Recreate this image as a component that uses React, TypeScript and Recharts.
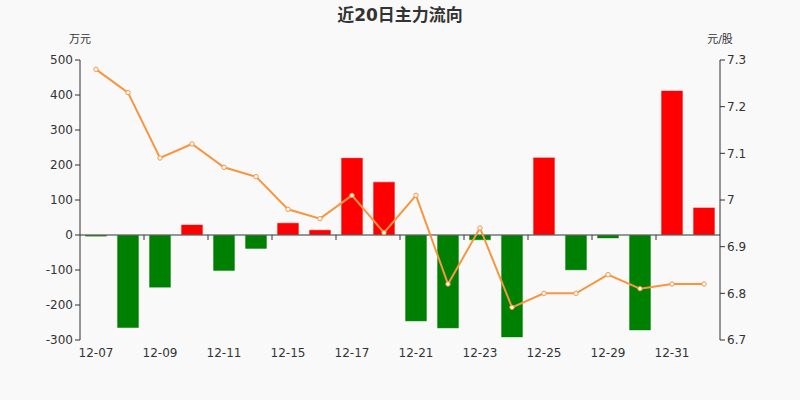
import { ComposedChart, Bar, Line, XAxis, YAxis, Cell, ReferenceLine } from 'recharts';

const dates = [
  '12-07', '12-08', '12-09', '12-10', '12-11', '12-14', '12-15', '12-16', '12-17', '12-18',
  '12-21', '12-22', '12-23', '12-24', '12-25', '12-28', '12-29', '12-30', '12-31', '01-04',
];
// main force net inflow, 万元
const flows = [-5, -266, -151, 30, -103, -40, 35, 15, 221, 152, -247, -267, -15, -293, 222, -101, -10, -273, 413, 79];
// closing price, 元/股
const prices = [7.28, 7.23, 7.09, 7.12, 7.07, 7.05, 6.98, 6.96, 7.01, 6.93, 7.01, 6.82, 6.94, 6.77, 6.8, 6.8, 6.84, 6.81, 6.82, 6.82];

const flowTicks = [-300, -200, -100, 0, 100, 200, 300, 400, 500];
const priceTicks = [6.7, 6.8, 6.9, 7.0, 7.1, 7.2, 7.3];

const data = dates.map((date, i) => ({ date, flow: flows[i], price: prices[i] }));

const FONT = '"DejaVu Sans", "Noto Sans CJK SC", sans-serif';
const TEXT = '#333';

// zero line with boundary ticks every other category
const ZeroAxis = (props: any) => {
  const { x1, y1, x2 } = props;
  const step = (x2 - x1) / dates.length;
  return (
    <g>
      <line x1={x1} y1={y1} x2={x2} y2={y1} stroke={TEXT} strokeWidth={1} />
      {dates.map((_, i) =>
        i > 0 && i % 2 === 0 ? (
          <line key={i} x1={x1 + i * step} y1={y1} x2={x1 + i * step} y2={y1 + 5} stroke={TEXT} />
        ) : null
      )}
    </g>
  );
};

export default function App() {
  return (
    <div style={{ position: 'relative', width: 800, height: 400, background: '#f9f9f9', fontFamily: FONT }}>
      <style>{'body{margin:0}'}</style>
      <div style={{ position: 'absolute', top: 1, left: 0, width: 800, textAlign: 'center', fontSize: 17, fontWeight: 'bold', color: TEXT }}>
        近20日主力流向
      </div>
      <div style={{ position: 'absolute', top: 30, left: 60, width: 40, textAlign: 'center', fontSize: 11, color: TEXT }}>
        万元
      </div>
      <div style={{ position: 'absolute', top: 30, left: 695, width: 50, textAlign: 'center', fontSize: 11, color: TEXT }}>
        元/股
      </div>
      <ComposedChart
        width={800}
        height={400}
        data={data}
        margin={{ top: 60, right: 40, left: 40, bottom: 30 }}
        style={{ fontFamily: FONT }}
      >
        <XAxis
          dataKey="date"
          interval={1}
          axisLine={false}
          tickLine={false}
          tick={{ fill: TEXT, fontSize: 12 }}
          height={30}
        />
        <YAxis
          yAxisId="left"
          domain={[-300, 500]}
          ticks={flowTicks}
          width={40}
          stroke={TEXT}
          tickSize={5}
          tick={{ fill: TEXT, fontSize: 12 }}
        />
        <YAxis
          yAxisId="right"
          orientation="right"
          domain={[6.7, 7.3]}
          ticks={priceTicks}
          width={40}
          stroke={TEXT}
          tickSize={5}
          tick={{ fill: TEXT, fontSize: 12 }}
          tickFormatter={(v: number) => String(Number(v.toFixed(2)))}
        />
        <Bar yAxisId="left" dataKey="flow" barSize={22} isAnimationActive={false} stroke="#ffffff" strokeOpacity={0.6}>
          {data.map((d, i) => (
            <Cell key={i} fill={d.flow >= 0 ? '#ff0000' : '#008000'} />
          ))}
        </Bar>
        <ReferenceLine yAxisId="left" y={0} shape={ZeroAxis} />
        <Line
          yAxisId="right"
          dataKey="price"
          stroke="#f8953f"
          strokeWidth={2}
          dot={{ r: 2.2, fill: '#ffffff', stroke: '#f8953f', strokeWidth: 1 }}
          isAnimationActive={false}
        />
      </ComposedChart>
    </div>
  );
}
